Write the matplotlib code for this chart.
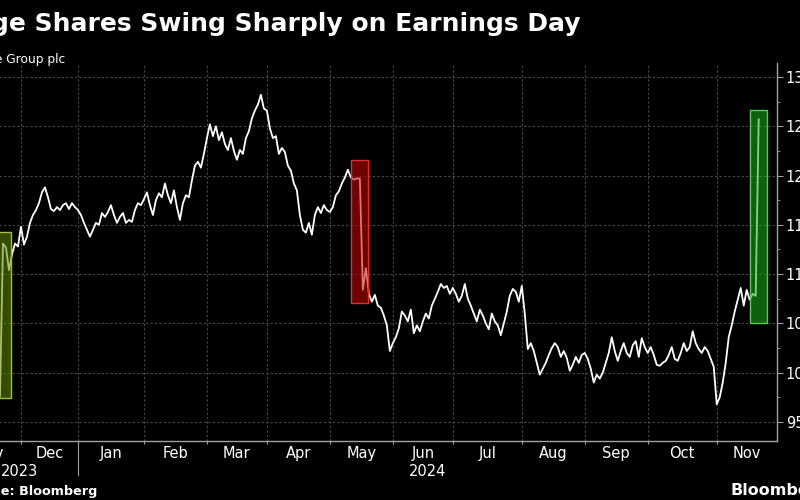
import pandas as pd
import matplotlib
matplotlib.use("Agg")
import matplotlib.pyplot as plt
from matplotlib.patches import Rectangle

# UK market holidays in the window, so the x axis runs in trading days like the terminal chart
uk_holidays = ["2023-12-25", "2023-12-26", "2024-01-01", "2024-03-29",
               "2024-04-01", "2024-05-06", "2024-05-27", "2024-08-26"]
days = pd.bdate_range("2023-11-01", "2024-11-29", freq="C", holidays=uk_holidays)

first_date = "2023-11-22"

# daily close, pence
close = [
    # Nov 2023 (tail)
    976, 1131, 1127, 1104, 1120, 1131, 1128,
    # Dec
    1148, 1130, 1138, 1152, 1160, 1165, 1172, 1183, 1188, 1178, 1166, 1164, 1168,
    1165, 1170, 1172, 1166, 1172, 1168,
    # Jan 2024
    1165, 1160, 1152, 1145, 1138, 1145, 1152, 1150, 1162, 1158, 1163, 1170, 1160,
    1152, 1158, 1162, 1152, 1155, 1153, 1165, 1172, 1170,
    # Feb
    1176, 1183, 1170, 1160, 1175, 1182, 1178, 1192, 1180, 1172, 1185, 1168, 1155,
    1172, 1180, 1178, 1195, 1210, 1214, 1208, 1222,
    # Mar
    1238, 1252, 1240, 1250, 1236, 1244, 1232, 1226, 1238, 1225, 1216, 1226, 1222,
    1238, 1245, 1258, 1266, 1272, 1282, 1268,
    # Apr
    1266, 1248, 1238, 1240, 1222, 1228, 1224, 1210, 1205, 1192, 1185, 1160, 1145,
    1142, 1152, 1140, 1160, 1168, 1162, 1170, 1165,
    # May
    1163, 1168, 1180, 1184, 1192, 1198, 1206, 1198, 1196, 1197, 1197, 1084, 1106,
    1080, 1072, 1079, 1068, 1066, 1058, 1048, 1022,
    # Jun
    1030, 1036, 1045, 1062, 1058, 1052, 1064, 1040, 1048, 1042, 1052, 1060, 1055,
    1068, 1075, 1082, 1090, 1086, 1088, 1080,
    # Jul
    1086, 1080, 1072, 1078, 1090, 1075, 1068, 1060, 1052, 1064, 1058, 1050, 1044,
    1060, 1052, 1048, 1038, 1050, 1062, 1078, 1085, 1082, 1072,
    # Aug
    1088, 1060, 1024, 1030, 1022, 1010, 998, 1004, 1010, 1018, 1025, 1030, 1026,
    1016, 1022, 1015, 1002, 1008, 1016, 1010, 1018,
    # Sep
    1020, 1014, 1004, 990, 998, 994, 1000, 1010, 1020, 1036, 1022, 1012, 1022,
    1030, 1020, 1016, 1028, 1032, 1016, 1035, 1026,
    # Oct
    1020, 1026, 1018, 1008, 1007, 1010, 1012, 1018, 1026, 1014, 1012, 1020, 1030,
    1022, 1026, 1042, 1030, 1024, 1020, 1026, 1022, 1014, 1006,
    # Nov 2024
    968, 975, 990, 1010, 1036, 1048, 1062, 1074, 1086, 1068, 1084, 1074, 1080,
    1078, 1257,
]

# earnings-day highlight boxes
box_days = ["2023-11-23", "2024-05-16", "2024-11-21"]
box_low = [974, 1071, 1050]
box_high = [1143, 1216, 1267]
box_face = ["#5f8a00", "#d00000", "#1fb01f"]
box_edge = ["#9cc23a", "#e03030", "#4fd04f"]

y_ticks = [950, 1000, 1050, 1100, 1150, 1200, 1250, 1300]
y_labels = ["950", "1000", "1050", "1100", "1150", "1200", "1250", "1300"]

title = "Sage Shares Swing Sharply on Earnings Day"
subtitle = "Sage Group plc"
source = "Source: Bloomberg"

pos = {d: i for i, d in enumerate(days)}
start = pos[pd.Timestamp(first_date)]
xs = list(range(start, start + len(close)))

bg = "black"
grid_c = "#4a4a4a"
axis_c = "#a0a0a0"

fig = plt.figure(figsize=(8, 5), dpi=100, facecolor=bg)
ax = fig.add_axes([-45 / 800, 59.3 / 500, 821.7 / 800, 377.7 / 500], facecolor=bg)

ax.plot(xs, close, color="white", lw=1.3, solid_joinstyle="round", zorder=3)

for d, lo, hi, fc, ec in zip(box_days, box_low, box_high, box_face, box_edge):
    c = pos[pd.Timestamp(d)]
    ax.add_patch(Rectangle((c - 2.8, lo), 5.6, hi - lo, facecolor=fc, alpha=0.55,
                           edgecolor="none", zorder=4))
    ax.add_patch(Rectangle((c - 2.8, lo), 5.6, hi - lo, facecolor="none",
                           edgecolor=ec, lw=1.0, zorder=5))

x_left, x_right = 0.97, 274.0
ax.set_xlim(x_left, x_right)
ax.set_ylim(931, 1314.2)

# month boundaries = first trading day of each month
month_starts = []
month_names = []
last = None
for d in days:
    if (d.year, d.month) != last:
        month_starts.append(pos[d])
        month_names.append(d.strftime("%b"))
        last = (d.year, d.month)
edges = [max(m, x_left) for m in month_starts] + [x_right]
centers = [(edges[k] + edges[k + 1]) / 2 for k in range(len(month_starts))]

ax.set_xticks(month_starts)
ax.set_xticklabels([])
ax.set_xticks(centers, minor=True)
ax.set_xticklabels(month_names, minor=True, color="white", fontsize=10.5)
ax.tick_params(axis="x", which="major", length=2.5, color=axis_c, direction="out")
ax.tick_params(axis="x", which="minor", length=0, pad=4)

ax.yaxis.tick_right()
ax.set_yticks(y_ticks)
ax.set_yticklabels(y_labels, color="white", fontsize=10.5)
ax.set_yticks([v + 25 for v in y_ticks[:-1]], minor=True)
ax.tick_params(axis="y", which="major", length=4, color=axis_c, pad=2.5)
ax.tick_params(axis="y", which="minor", length=2.5, color=axis_c)

ax.grid(True, which="major", color=grid_c, linestyle=(0, (2, 2)), lw=0.8)
ax.set_axisbelow(True)
for s in ["left", "top"]:
    ax.spines[s].set_visible(False)
for s in ["right", "bottom"]:
    ax.spines[s].set_color(axis_c)
    ax.spines[s].set_linewidth(1.0)

# year labels and the year separator
jan = pos[pd.Timestamp("2024-01-02")]
xt = ax.get_xaxis_transform()
ax.plot([jan, jan], [0, -0.09], color=axis_c, lw=0.8, transform=xt, clip_on=False)
ax.annotate("2023", xy=((x_left + jan) / 2 + 0.6, 0), xycoords=xt, xytext=(0, -22),
            textcoords="offset points", ha="center", va="center",
            color="white", fontsize=10.5)
ax.annotate("2024", xy=((jan + x_right) / 2, 0), xycoords=xt, xytext=(0, -22),
            textcoords="offset points", ha="center", va="center",
            color="white", fontsize=10.5)

fig.text(580 / 800, 1 - 30.5 / 500, title, ha="right", va="baseline",
         color="white", fontsize=18, fontweight="bold")
fig.text(65 / 800, 1 - 63 / 500, subtitle, ha="right", va="baseline",
         color="white", fontsize=8.8)
fig.text(97 / 800, 1 - 495 / 500, source, ha="right", va="baseline",
         color="white", fontsize=9.2, fontweight="bold")
fig.text(731 / 800, 1 - 495 / 500, "Bloomberg", ha="left", va="baseline",
         color="white", fontsize=11.5, fontweight="bold")

fig.savefig("out.png", dpi=100, facecolor=bg)
